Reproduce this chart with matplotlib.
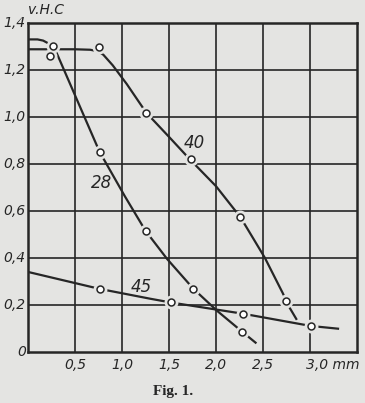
import matplotlib
matplotlib.use("Agg")
from matplotlib import pyplot as plt

# curve "40": drawn path and measured points
c40_x = [0.0, 0.5, 0.66, 0.74, 0.80, 0.90, 1.05, 1.22, 1.30, 1.5, 1.72, 2.0, 2.26, 2.4, 2.52, 2.71, 2.78, 2.86]
c40_y = [1.288, 1.288, 1.286, 1.28, 1.265, 1.22, 1.14, 1.04, 1.0, 0.915, 0.82, 0.705, 0.573, 0.48, 0.40, 0.25, 0.19, 0.136]
p40_x = [0.75, 1.25, 1.73, 2.26, 2.74]
p40_y = [1.298, 1.018, 0.82, 0.573, 0.217]

# curve "28"
c28_x = [0.0, 0.1, 0.16, 0.23, 0.26, 0.29, 0.76, 1.03, 1.25, 1.48, 1.76, 2.01, 2.28, 2.43]
c28_y = [1.33, 1.33, 1.325, 1.31, 1.30, 1.285, 0.852, 0.662, 0.515, 0.395, 0.268, 0.175, 0.085, 0.036]
p28_x = [0.23, 0.26, 0.76, 1.25, 1.76, 2.28]
p28_y = [1.26, 1.30, 0.852, 0.515, 0.268, 0.085]

# curve "45"
c45_x = [0.0, 0.76, 1.30, 1.52, 2.29, 3.01, 3.31]
c45_y = [0.34, 0.268, 0.226, 0.21, 0.162, 0.11, 0.098]
p45_x = [0.76, 1.52, 2.29, 3.01]
p45_y = [0.268, 0.21, 0.162, 0.11]

xticks = [0.5, 1.0, 1.5, 2.0, 2.5]
xlabels = ["0,5", "1,0", "1,5", "2,0", "2,5"]
yticks = [0, 0.2, 0.4, 0.6, 0.8, 1.0, 1.2, 1.4]
ylabels = ["0", "0,2", "0,4", "0,6", "0,8", "1,0", "1,2", "1,4"]

paper = "#e4e4e2"
ink = "#262626"

fig = plt.figure(figsize=(3.65, 4.03), dpi=100, facecolor=paper)
ax = fig.add_axes([0.077, 0.127, 0.901, 0.816], facecolor=paper)
ax.set_xlim(0, 3.5)
ax.set_ylim(0, 1.4)

# grid
for gx in [0.5, 1.0, 1.5, 2.0, 2.5, 3.0]:
    ax.axvline(gx, color=ink, lw=1.2, zorder=1)
for gy in [0.2, 0.4, 0.6, 0.8, 1.0, 1.2]:
    ax.axhline(gy, color=ink, lw=1.2, zorder=1)
for s in ax.spines.values():
    s.set_linewidth(1.8)
    s.set_color(ink)

for cx, cy in [(c40_x, c40_y), (c28_x, c28_y), (c45_x, c45_y)]:
    ax.plot(cx, cy, color=ink, lw=1.6, zorder=3, solid_capstyle="butt")
for px, py in [(p40_x, p40_y), (p28_x, p28_y), (p45_x, p45_y)]:
    ax.plot(px, py, "o", ms=9, color=paper, mec=paper, zorder=4)
    ax.plot(px, py, "o", ms=5, mfc="white", mec=ink, mew=1.1, zorder=5)

lab = dict(fontsize=12, style="italic", color=ink, zorder=6)
ax.text(1.77, 0.89, "40", ha="center", va="center", **lab)
ax.text(0.78, 0.72, "28", ha="center", va="center", **lab)
ax.text(1.21, 0.275, "45", ha="center", va="center", **lab)

ax.set_xticks([])
ax.set_yticks([])
tk = dict(fontsize=10, style="italic", color=ink)
for v, t in zip(xticks, xlabels):
    ax.text(v, -0.025, t, ha="center", va="top", **tk)
ax.text(2.96, -0.025, "3,0 mm", ha="left", va="top", **tk)
for v, t in zip(yticks, ylabels):
    ax.text(-0.025, v, t, ha="right", va="center", **tk)
ax.text(0.0, 1.425, "v.H.C", ha="left", va="bottom", fontsize=10, style="italic", color=ink)

fig.text(0.475, 0.028, "Fig. 1.", ha="center", va="center", fontsize=11,
         family="Liberation Serif", weight="bold", color=ink)

fig.savefig("out.png", dpi=100, facecolor=paper)
